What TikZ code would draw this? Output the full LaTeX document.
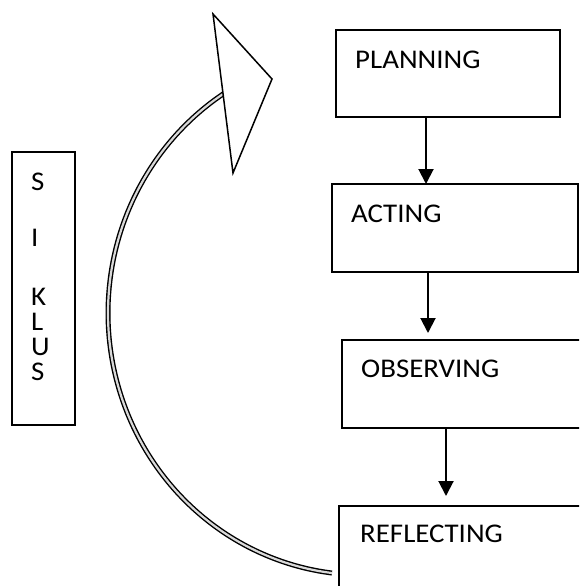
\documentclass[tikz,border=0pt]{standalone}
\usepackage{fontspec}
\setmainfont{Carlito}[FakeStretch=1.07]
\usetikzlibrary{arrows.meta}

\begin{document}
\begin{tikzpicture}
  [x=1pt,y=-1pt,font=\fontsize{27}{27}\selectfont,
   box/.style={draw=black,line width=2pt,anchor=north west,inner sep=0pt,outer sep=0pt},
   lbl/.style={anchor=west,inner sep=0pt},
   flow/.style={line width=2pt,-{Triangle[width=15pt,length=15pt]}}]
  \useasboundingbox (0,0) rectangle (579,586);
  \clip (0,0) rectangle (579,586);

  \node[box,minimum width=224pt,minimum height=87pt] (plan) at (336,30) {};
  \node[box,minimum width=246pt,minimum height=88pt] (act) at (332,184) {};
  \node[box,minimum width=270pt,minimum height=88pt] (obs) at (342,340) {};
  \node[box,minimum width=270pt,minimum height=100pt] (refl) at (339,506) {};
  \node[box,line width=1.5pt,minimum width=63pt,minimum height=273pt] (siklus) at (12,152) {};

  \node[lbl] (tplan) at (355,60) {PLANNING};
  \node[lbl] (tact) at (351,214) {ACTING};
  \node[lbl] (tobs) at (361,369) {OBSERVING};
  \node[lbl] (trefl) at (360,534) {REFLECTING};

  \foreach \ch/\yy [count=\i] in {S/182,I/238,K/297,L/322,U/347,S/372}
    \node[lbl] (k\i) at (31,\yy) {\ch};

  \foreach \from/\to/\xx/\gap in {plan/act/426/0, act/obs/428/7, obs/refl/446/10}
    \draw[flow,shorten >=\gap pt] (\from.south -| \xx,0) -- (\to.north -| \xx,0);

  % panah siklus
  \draw[line width=1.4pt,double=gray!30,double distance=2.2pt]
    plot[domain=123:263,samples=50,smooth] ({363+255*cos(\x)},{313-262*sin(\x)});
  \draw[line width=1.5pt,fill=white] (213,14) -- (272,79) -- (233,173) -- cycle;
\end{tikzpicture}
\end{document}
